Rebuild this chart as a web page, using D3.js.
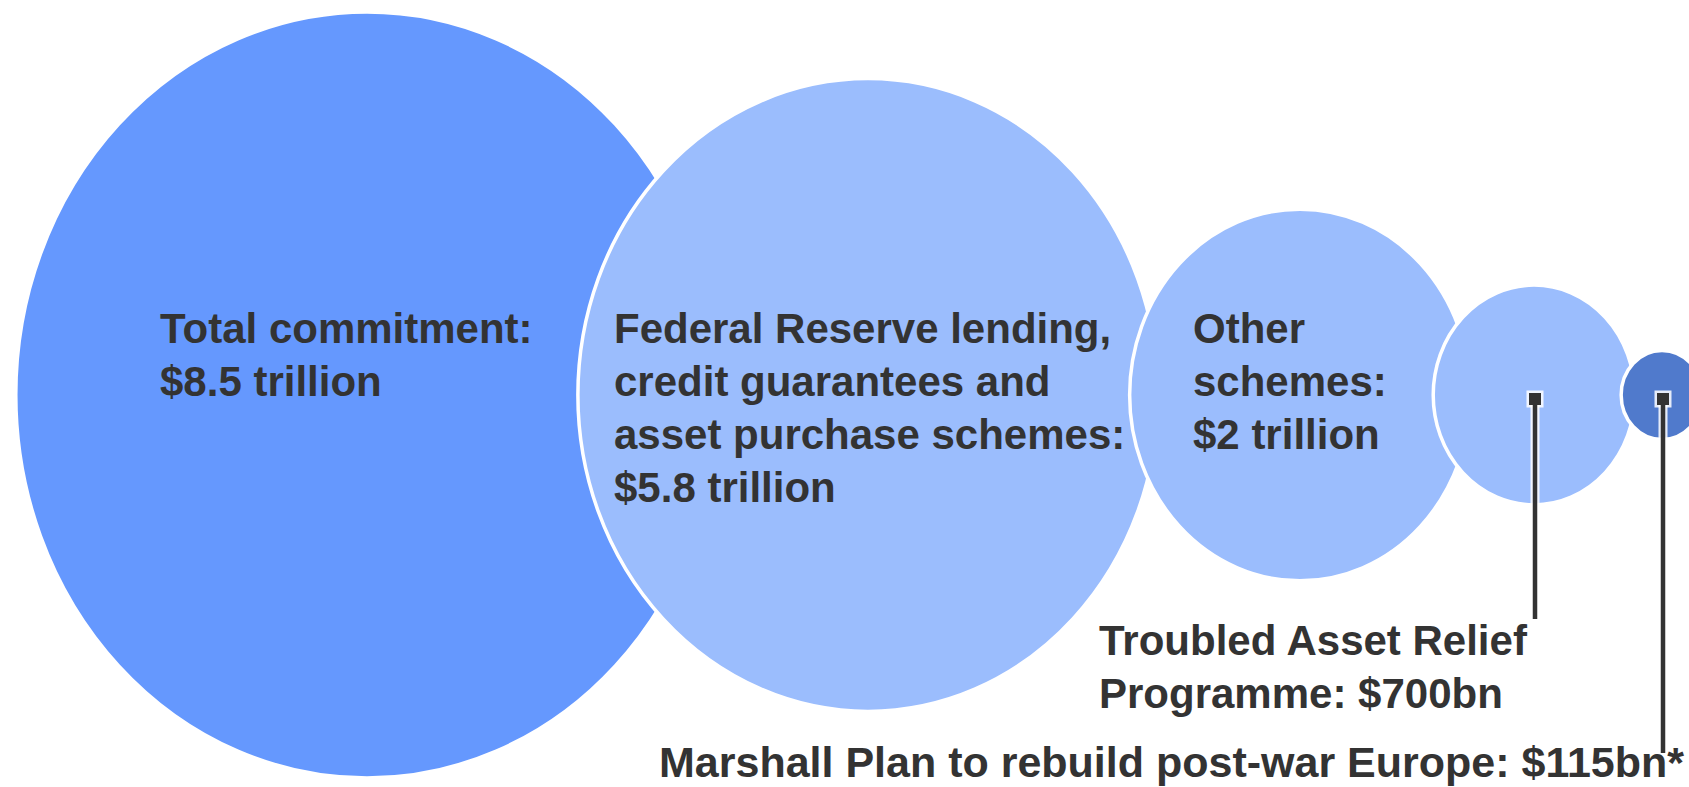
<!DOCTYPE html>
<html>
<head>
<meta charset="utf-8">
<script src="https://cdn.jsdelivr.net/npm/d3@7/dist/d3.min.js"></script>
<style>
  html, body { margin: 0; padding: 0; background: #ffffff; }
  svg { display: block; }
  text { font-family: "Liberation Sans", Arial, Helvetica, sans-serif; font-weight: bold; fill: #333333; }
</style>
</head>
<body>
<svg id="chart" width="1689" height="787"></svg>
<script>
// Rescue programmes, in trillions of dollars
const categories = [
  "Total commitment",
  "Federal Reserve lending, credit guarantees and asset purchase schemes",
  "Other schemes",
  "Troubled Asset Relief Programme",
  "Marshall Plan"
];
const valuesTrn = [8.5, 5.8, 2, 0.7, 0.115];
const fillColors = ["#6598fe", "#9bbdfd", "#9bbdfd", "#9bbdfd", "#507acc"];
const labelLines = [
  ["Total commitment:", "$8.5 trillion"],
  ["Federal Reserve lending,", "credit guarantees and", "asset purchase schemes:", "$5.8 trillion"],
  ["Other", "schemes:", "$2 trillion"],
  ["Troubled Asset Relief", "Programme: $700bn"],
  ["Marshall Plan to rebuild post-war Europe: $115bn*"]
];

const W = 1689, H = 787;
const svg = d3.select("#chart");

// Bubble area is proportional to the amount
const rScale = d3.scaleSqrt().domain([0, d3.max(valuesTrn)]).range([0, 383]);
const xScale = d3.scaleOrdinal().domain(categories).range([367, 868, 1300, 1534, 1662]);
const cy = 395;
const squash = 0.917;   // bubbles are drawn slightly narrower than tall

const data = categories.map((c, i) => ({
  name: c, value: valuesTrn[i], color: fillColors[i], lines: labelLines[i]
}));

svg.append("g")
  .selectAll("ellipse")
  .data(data)
  .join("ellipse")
  .attr("cx", d => xScale(d.name))
  .attr("cy", cy)
  .attr("rx", d => rScale(d.value) * squash)
  .attr("ry", d => rScale(d.value))
  .attr("fill", d => d.color)
  .attr("stroke", "#ffffff")
  .attr("stroke-width", 3.5);

// Leader lines for the two bubbles labelled outside
const leaders = [
  { d: data[3], y2: 619 },
  { d: data[4], y2: 753 }
];
const lg = svg.append("g");
const markerY = cy + 4;
leaders.forEach(l => {
  const x = xScale(l.d.name) + 1;
  lg.append("line")
    .attr("x1", x).attr("x2", x).attr("y1", markerY).attr("y2", l.y2)
    .attr("stroke", "#ffffff").attr("stroke-opacity", 0.85).attr("stroke-width", 9);
  lg.append("rect")
    .attr("x", x - 8.5).attr("y", markerY - 8.5).attr("width", 17).attr("height", 17)
    .attr("fill", "#ffffff").attr("fill-opacity", 0.85);
  lg.append("line")
    .attr("x1", x).attr("x2", x).attr("y1", markerY).attr("y2", l.y2)
    .attr("stroke", "#333333").attr("stroke-width", 4.5);
  lg.append("rect")
    .attr("x", x - 6).attr("y", markerY - 6).attr("width", 12).attr("height", 12)
    .attr("fill", "#333333");
});

// Text labels
const labelPos = [
  { x: 160, y: 343, size: 42 },
  { x: 614, y: 343, size: 42 },
  { x: 1193, y: 343, size: 42 },
  { x: 1099, y: 655, size: 42 },
  { x: 659, y: 777, size: 43 }
];
const lineGap = 53;
const tg = svg.append("g");
data.forEach((d, i) => {
  const p = labelPos[i];
  const t = tg.append("text")
    .attr("x", p.x).attr("y", p.y)
    .attr("font-size", p.size);
  d.lines.forEach((ln, j) => {
    t.append("tspan").attr("x", p.x).attr("y", p.y + j * lineGap).text(ln);
  });
});
</script>
</body>
</html>
